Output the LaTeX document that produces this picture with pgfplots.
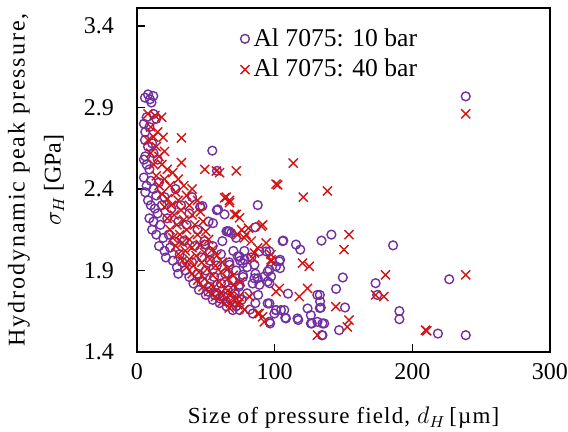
\documentclass[border=0pt]{standalone}
\usepackage{fontspec}
\setmainfont{Liberation Serif}
\usepackage{pgfplots}
\pgfplotsset{compat=1.18}

\definecolor{al10}{RGB}{112,48,160}
\definecolor{al40}{RGB}{210,20,20}

\begin{document}
\begin{tikzpicture}
\begin{axis}[
    name=ax,
    scale only axis,
    width=206.5pt, height=172pt,
    xmin=0, xmax=300, ymin=1.4, ymax=3.51,
    xtick={0,100,200,300},
    ytick={1.4,1.9,2.4,2.9,3.4},
    xtick pos=bottom, ytick pos=left,
    tick align=inside,
    major tick length=4pt,
    axis line style={line width=0.6pt},
    tick style={line width=0.6pt,black},
    /pgf/number format/assume math mode=true,
    yticklabel style={/pgf/number format/fixed,/pgf/number format/fixed zerofill,
        /pgf/number format/precision=1, xshift=-8pt},
    ticklabel style={font=\fontsize{12}{14}\selectfont},
    xticklabel style={yshift=-2pt},
    xlabel={\addfontfeature{LetterSpace=5}Size of pressure field, $d_H$\,[µm]},
    ylabel={{\addfontfeature{LetterSpace=8}Hydrodynamic peak pressure,}\\$\sigma_H$\,[GPa]},
    xlabel style={font=\fontsize{11.5}{14}\selectfont, yshift=-7pt},
    ylabel style={align=center, font=\fontsize{12}{18}\selectfont},
    ylabel shift=3pt,
    legend style={draw=none, fill=none, at={(0.235,0.965)}, anchor=north west,
        font=\fontsize{12.8}{15}\selectfont, row sep=1pt},
    legend cell align=left,
]
% Al 7075: 10 bar
\addplot[only marks, mark=o, mark size=2.2pt, al10, line width=0.7pt] coordinates {
(5.8,2.96)(9.4,2.95)(11.8,2.97)(8,2.98)(10.5,2.93)
(7,2.84)(12,2.86)(5,2.80)(9,2.78)(6,2.75)(14,2.83)
(5.8,2.70)(8,2.66)(11,2.68)(6,2.60)(7,2.55)(5,2.58)(9,2.52)(12,2.62)(15,2.58)
(5,2.47)(7,2.42)(10,2.45)(6,2.38)(8,2.33)(12,2.40)(14,2.36)(10,2.30)(13,2.28)(16,2.44)
(9,2.22)(12,2.20)(15,2.25)(18,2.30)(20,2.35)(11,2.15)(14,2.12)(17,2.18)(19,2.10)(22,2.22)
(16,2.05)(20,2.02)(23,2.12)(25,2.28)(28,2.40)(21,1.98)(24,2.04)(27,2.08)(30,2.20)(32,2.30)
(26,1.96)(29,1.92)(31,2.00)(34,2.08)(36,2.18)(38,2.25)(40,2.35)(30,1.88)(33,1.95)(35,1.90)
(38,1.86)(40,1.95)(42,2.05)(44,2.15)(46,2.29)(41,1.82)(44,1.88)(47,1.98)(49,2.08)(52,2.20)
(45,1.78)(48,1.83)(50,1.90)(53,1.96)(55,2.05)(55.2,2.19)(58.8,2.275)(63.6,2.244)(58,2.27)
(50,1.75)(53,1.80)(56,1.86)(58,1.93)(61,2.00)(65,2.14)(67,2.14)(62,2.08)
(55,1.72)(58,1.76)(61,1.82)(64,1.88)(67,1.95)(70,2.02)(72,2.10)
(60,1.70)(63,1.74)(66,1.78)(69,1.84)(72,1.90)(75,1.96)(78,2.02)
(65,1.68)(68,1.72)(71,1.76)(74,1.80)(77,1.86)(80,1.92)(83,1.98)
(72,1.68)(76,1.72)(80,1.76)(84,1.82)(86,1.88)(82,1.66)(86,1.70)(88,1.75)
(47.5,2.295)(49.2,2.059)(52.8,2.017)(66,2.14)(68.5,2.13)(74.5,1.986)(78.1,1.966)
(73.2,1.986)(76.9,1.945)(67.2,1.935)(76.9,1.873)(74.5,1.812)(85.3,1.852)(88.9,1.812)
(51.6,1.77)(56.4,1.75)(69.6,1.657)(74.5,1.657)(64.8,1.709)(60,1.729)
(84.1,1.636)(87.7,1.852)(86,2.165)(87.7,2.301)(54.7,2.635)(58.1,2.511)(46,2.289)
(89,2.017)(85.3,1.935)(94.9,1.894)(97.4,1.863)(96.2,1.822)(94.9,1.698)(101,1.657)
(93.8,2.017)(96.2,2.017)(96.2,1.904)(92.5,1.863)(94.9,1.832)(96.2,1.698)(96.7,1.575)
(99.8,1.636)(101,1.657)(104.6,1.657)(107.7,1.61)(103.9,1.966)(103.9,1.914)(109.7,1.758)
(105.8,2.08)(101,1.925)(103.4,1.956)(107,1.657)(108.2,1.606)(96.2,1.585)(116.6,1.606)
(106.3,2.083)(115.5,2.059)(118.6,2.028)(117.1,1.596)(123.9,1.667)(126.3,1.626)(127,1.575)
(131,1.75)(133,1.71)(132.8,1.67)(126.3,1.575)(131.1,1.585)(134.7,1.575)(134.7,1.503)
(132.8,1.75)(133.5,1.672)(136,1.575)(134.3,1.503)(134,2.083)(141.2,2.12)(144.6,1.787)
(146.8,1.534)(149.5,1.857)(151.1,1.673)(173.3,1.822)(174.5,1.75)(186,2.054)
(190.6,1.651)(190.6,1.601)(218.6,1.513)(226.8,1.846)(238.8,2.968)(238.8,1.503)
};
\addlegendentry{Al 7075: 10 bar}
% Al 7075: 40 bar
\addplot[only marks, mark=x, mark size=3.2pt, al40, line width=0.7pt] coordinates {
(13,2.85)(17.9,2.84)(8,2.86)(19,2.717)(10,2.78)(15,2.75)(12,2.72)(8,2.70)(14,2.66)
(10,2.62)(16,2.60)(20,2.63)(32.3,2.713)(32.3,2.562)(18,2.55)(12,2.55)(22,2.52)(14,2.48)
(20,2.46)(26,2.50)(16,2.42)(24,2.42)(30,2.46)(18,2.37)(22,2.34)(28,2.38)(34,2.42)
(20,2.29)(25,2.30)(30,2.33)(36,2.36)(40,2.40)(22,2.22)(27,2.24)(32,2.27)(38,2.30)(44,2.33)
(24,2.15)(29,2.18)(34,2.21)(40,2.24)(46,2.26)(26,2.10)(31,2.12)(36,2.15)(42,2.18)(48,2.20)
(28,2.05)(33,2.07)(38,2.09)(44,2.12)(50,2.14)(30,2.00)(35,2.02)(40,2.04)(46,2.06)(52,2.09)
(33,1.96)(38,1.97)(43,1.99)(49,2.01)(55,2.03)(36,1.92)(41,1.93)(47,1.95)(53,1.97)(58,1.99)
(40,1.88)(45,1.89)(51,1.91)(57,1.93)(62,1.95)(44,1.84)(49,1.85)(55,1.87)(61,1.89)(66,1.91)
(48,1.80)(54,1.81)(60,1.83)(66,1.85)(70,1.87)(52,1.77)(58,1.78)(64,1.79)(70,1.81)(75,1.83)
(57,1.74)(63,1.75)(69,1.76)(74,1.74)(62,1.71)(68,1.70)(73,1.69)(67,1.67)(78,1.66)
(49.2,2.52)(57.6,2.51)(60,2.5)(72.1,2.511)(64.8,2.35)(67.2,2.33)(72.1,2.244)
(63.6,2.346)(67.2,2.316)(70.9,2.244)(74.5,2.223)(79.3,2.12)(82.9,2.08)(91.3,2.18)
(87.7,2.038)(93.8,2.069)(97.4,1.997)(84.1,1.976)(97.4,1.966)(88.9,1.636)(69.6,1.73)
(74.5,1.709)(81.7,1.74)(73,2.12)(76,2.15)(78,2.10)(81,2.16)(85.3,2.007)(90.2,2.172)
(97.4,1.956)(101,1.77)(87.7,1.636)(91.3,1.616)(92.5,1.585)(101,2.43)(103.4,1.79)
(102.2,2.425)(113.5,2.559)(120.8,2.35)(138.3,2.388)(120.2,1.945)(125.1,1.925)
(123.9,1.79)(117.9,1.74)(131.1,1.503)(144.4,1.678)(154,1.596)(152.8,1.554)
(150.4,2.028)(154,2.12)(173.3,1.75)(179.3,1.74)(180.5,1.873)(209.5,1.534)
(210.5,1.530)(238.8,1.873)(238.8,2.861)
};
\addlegendentry{Al 7075: 40 bar}
\end{axis}
\pgfresetboundingbox
\path ([shift={(-68.5pt,-40pt)}]ax.south west) rectangle ([shift={(9pt,4pt)}]ax.north east);
\end{tikzpicture}
\end{document}
